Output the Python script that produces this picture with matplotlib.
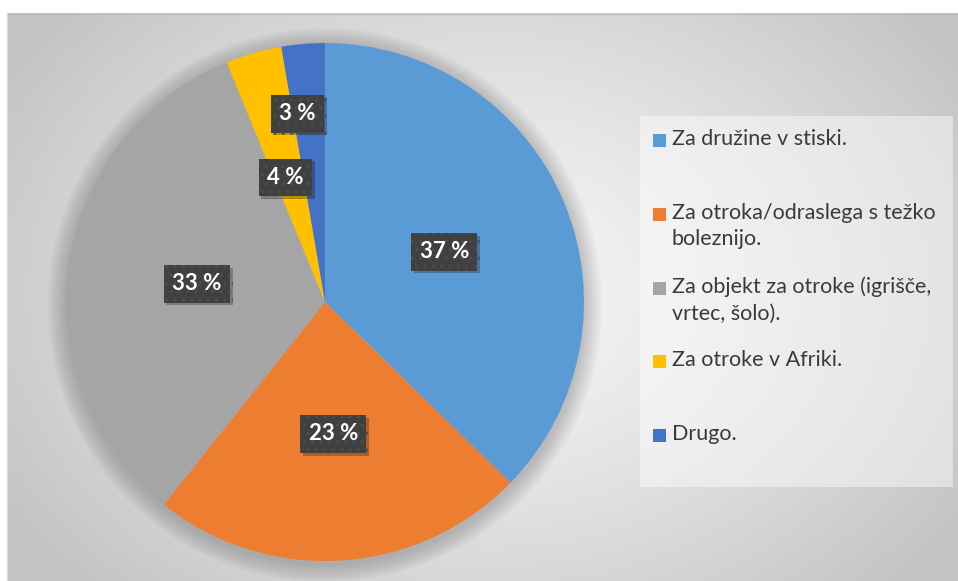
import numpy as np
import matplotlib
matplotlib.use("Agg")
import matplotlib.pyplot as plt
import matplotlib.patheffects as pe
from matplotlib.patches import Rectangle, Circle

plt.rcParams['font.family'] = ['Lato', 'DejaVu Sans']

# --- podatki ---
labels = ["Za družine v stiski.",
          "Za otroka/odraslega s težko\nboleznijo.",
          "Za objekt za otroke (igrišče,\nvrtec, šolo).",
          "Za otroke v Afriki.",
          "Drugo."]
values = [37.3, 23.4, 33.1, 3.5, 2.7]
pct_labels = ["37 %", "23 %", "33 %", "4 %", "3 %"]
colors = ["#5b9bd5", "#ed7d31", "#a5a5a5", "#ffc000", "#4472c4"]

W, H = 958, 581
fig = plt.figure(figsize=(W / 100, H / 100), dpi=100)
fig.patch.set_facecolor("white")

# --- ozadje z radialnim prelivom ---
bg = fig.add_axes([0, 0, 1, 1])
xx, yy = np.meshgrid(np.linspace(7, W, 400), np.linspace(0, H - 13, 250))
d = np.sqrt(((xx - 490) / 560) ** 2 + ((yy - 290) / 420) ** 2)
d = np.clip(d, 0, 1)
grey = 0.965 - 0.195 * d ** 1.3
bg.imshow(np.dstack([grey, grey, grey]), extent=(7, W, 0, H - 13),
          origin="lower", aspect="auto", interpolation="bilinear")
bg.plot([7, W], [H - 13.5, H - 13.5], color="#bdbdbd", lw=1)
bg.plot([7.5, 7.5], [0, H - 13], color="#d9d9d9", lw=1)
bg.set_xlim(0, W)
bg.set_ylim(0, H)
bg.axis("off")

# --- legenda ---
bg.add_patch(Rectangle((640, H - 487), 313, 371, fc="white", alpha=0.45, ec="none"))
y0 = H - 140
step = 73.8
for i, (lab, c) in enumerate(zip(labels, colors)):
    y = y0 - i * step
    bg.add_patch(Rectangle((653, y - 7), 13, 13, fc=c, ec="none"))
    bg.text(672, y + 11, lab, fontsize=15.5, color="#3a3a3a", va="top",
            ha="left", linespacing=1.4)

# --- tortni diagram ---
cx, cy, R = 325, H - 302, 259
lim = 1.08
half = R * lim
ax = fig.add_axes([(cx - half) / W, (cy - half) / H, 2 * half / W, 2 * half / H])
for k in range(12):
    ax.add_patch(Circle((0.0, -0.012), 1.0 + 0.006 * (k + 1), fc="black",
                        alpha=0.016, ec="none", zorder=0))
wedges, _ = ax.pie(values, colors=colors, startangle=90, counterclock=False,
                   wedgeprops=dict(linewidth=0))
ax.set_xlim(-lim, lim)
ax.set_ylim(-lim, lim)
ax.set_aspect("equal")
ax.axis("off")

dist = [0.5, 0.51, 0.5, 0.5, 0.73]
shift = [0.0, 0.0, 0.0, -0.015, -0.045]
for w, txt, r, sx in zip(wedges, pct_labels, dist, shift):
    ang = np.deg2rad((w.theta1 + w.theta2) / 2)
    x, y = r * np.cos(ang) + sx, r * np.sin(ang)
    t = ax.text(x, y, txt, fontsize=16, fontweight="bold", color="white",
                ha="center", va="center",
                bbox=dict(boxstyle="square,pad=0.38", fc="#404040", ec="#4d4d4d",
                          hatch="..", lw=0))
    t.get_bbox_patch().set_path_effects(
        [pe.SimplePatchShadow(offset=(2, -2), shadow_rgbFace="black", alpha=0.25),
         pe.Normal()])

fig.savefig("out.png", dpi=100)
